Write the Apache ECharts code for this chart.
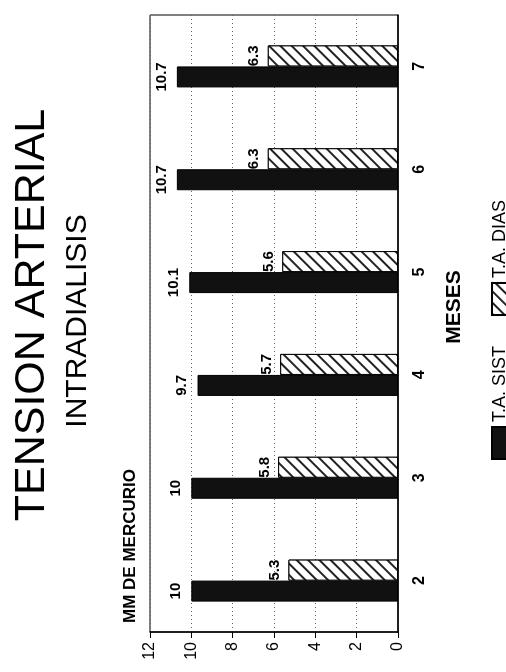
<!DOCTYPE html>
<html>
<head>
<meta charset="utf-8">
<script src="https://cdn.jsdelivr.net/npm/echarts@6/dist/echarts.min.js"></script>
<style>
  html, body { margin: 0; padding: 0; background: #fff; }
  body { width: 506px; height: 672px; overflow: hidden; position: relative; }
  /* la grafica original esta girada 90 grados */
  #grafica {
    position: absolute; left: 0; top: 0;
    width: 672px; height: 506px;
    transform-origin: 0 0;
    transform: translate(0, 672px) rotate(-90deg);
  }
</style>
</head>
<body>
<div id="grafica"></div>
<script>
// datos
var meses = ['2', '3', '4', '5', '6', '7'];
var sistolica = [10, 10, 9.7, 10.1, 10.7, 10.7];
var diastolica = [5.3, 5.8, 5.7, 5.6, 6.3, 6.3];
var ticksMercurio = [0, 2, 4, 6, 8, 10, 12];

(function () {
    'use strict';
    var myChart = echarts.init(document.getElementById('grafica'));
    var fuente = 'Liberation Sans, Arial, sans-serif';

    var option = {
        backgroundColor: '#fff',
        animation: false,
        title: [{
            text: 'TENSION ARTERIAL',
            left: 352, top: 6, textAlign: 'center',
            textStyle: { fontFamily: fuente, fontSize: 43, fontWeight: 'normal', color: '#000' }
        }, {
            text: 'INTRADIALISIS',
            left: 346, top: 58, textAlign: 'center',
            textStyle: { fontFamily: fuente, fontSize: 30, fontWeight: 'normal', color: '#000' }
        }, {
            text: 'MM DE MERCURIO',
            left: 44, top: 117,
            textStyle: { fontFamily: fuente, fontSize: 17, fontWeight: 'bold', color: '#000' }
        }, {
            text: 'MESES',
            left: 360, top: 439, textAlign: 'center',
            textStyle: { fontFamily: fuente, fontSize: 21, fontWeight: 'bold', color: '#000' }
        }],
        legend: {
            left: 207, top: 486,
            itemWidth: 32, itemHeight: 16, itemGap: 30,
            icon: 'rect',
            textStyle: { fontFamily: fuente, fontSize: 18, color: '#000' },
            data: ['T.A. SIST', 'T.A. DIAS']
        },
        grid: {
            left: 40, right: 15, top: 150, bottom: 108,
            show: true, borderColor: '#000', borderWidth: 1, backgroundColor: '#fff'
        },
        xAxis: {
            type: 'category',
            data: meses,
            axisLine: { lineStyle: { color: '#000', width: 1.5 } },
            axisTick: { alignWithLabel: true, length: 8, lineStyle: { color: '#000' } },
            axisLabel: { fontFamily: fuente, fontSize: 16, fontWeight: 'bold', color: '#000', margin: 14 }
        },
        yAxis: {
            type: 'value',
            min: ticksMercurio[0],
            max: ticksMercurio[ticksMercurio.length - 1],
            interval: 2,
            axisLine: { show: true, lineStyle: { color: '#000', width: 1.5 } },
            axisTick: { show: true, length: 6, lineStyle: { color: '#000' } },
            axisLabel: { fontFamily: fuente, fontSize: 16, color: '#000', margin: 10 },
            splitLine: { show: true, lineStyle: { color: '#666', type: [1, 3], width: 1 } }
        },
        series: [{
            name: 'T.A. SIST',
            type: 'bar',
            data: sistolica,
            barWidth: 21,
            barGap: '0%',
            itemStyle: { color: '#111', borderColor: '#000', borderWidth: 1 },
            label: {
                show: true, position: 'top', distance: 8,
                fontFamily: fuente, fontSize: 15, fontWeight: 'bold', color: '#000'
            }
        }, {
            name: 'T.A. DIAS',
            type: 'bar',
            data: diastolica,
            barWidth: 21,
            itemStyle: {
                color: '#fff', borderColor: '#000', borderWidth: 1,
                decal: {
                    symbol: 'rect', symbolSize: 1, color: '#222', backgroundColor: '#fff',
                    dashArrayX: [1, 0], dashArrayY: [1.3, 6], rotation: -Math.PI / 4
                }
            },
            label: {
                show: true, position: 'top', distance: 6,
                fontFamily: fuente, fontSize: 15, fontWeight: 'bold', color: '#000'
            }
        }]
    };

    myChart.setOption(option);
    window.addEventListener('resize', function () {
        myChart.resize();
    });
})();
</script>
</body>
</html>
